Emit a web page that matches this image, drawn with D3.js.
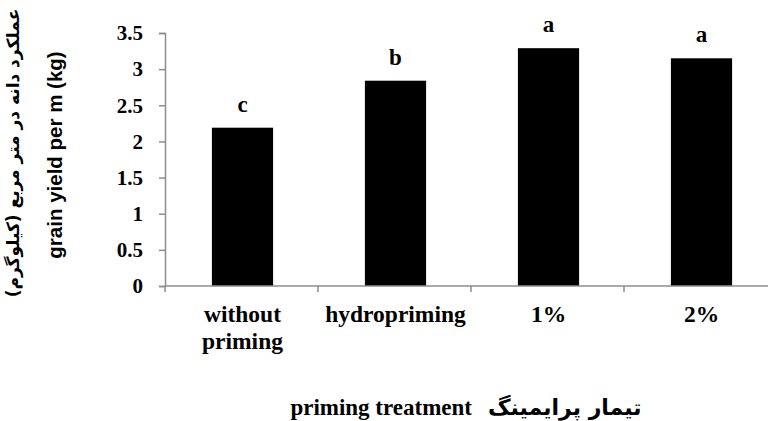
<!DOCTYPE html>
<html><head><meta charset="utf-8">
<script src="https://cdn.jsdelivr.net/npm/d3@7"></script>
<style>body{margin:0;background:#fff}</style>
</head><body>
<svg id="c" width="768" height="421"></svg>
<script>
const categories = [["without","priming"],["hydropriming"],["1%"],["2%"]];
const values = [2.19, 2.84, 3.29, 3.15];
const letters = ["c","b","a","a"];
const yTicks = [0,0.5,1,1.5,2,2.5,3,3.5];
const yTitleFa = "عملکرد دانه  در متر مربع (کیلوگرم)";
const yTitleEn = "grain yield per m (kg)";
const xTitleEn = "priming treatment";
const xTitleFa = "تیمار پرایمینگ";

const svg = d3.select("#c");
const serif = "'Liberation Serif','Times New Roman',serif";
const x0 = 165, x1 = 777;
const x = d3.scaleBand().domain(d3.range(categories.length)).range([x0+1, x1+1]).paddingInner(0.6).paddingOuter(0.3);
const y = d3.scaleLinear().domain([0,3.5]).range([286, 33]);
const axisColor = "#8c8c8c";

// y axis
const ya = svg.append("g").attr("transform",`translate(${x0},0)`)
  .call(d3.axisLeft(y).tickValues(yTicks).tickSize(6).tickPadding(16).tickFormat(d=>d3.format("")(d)));
ya.select(".domain").attr("stroke",axisColor).attr("stroke-width",1.5);
ya.selectAll(".tick line").attr("stroke",axisColor).attr("stroke-width",1.5);
ya.selectAll("text").attr("font-family",serif).attr("font-weight","bold").attr("font-size",21).attr("fill","#000");

// bars
svg.append("g").selectAll("rect").data(values).join("rect")
  .attr("x",(d,i)=>x(i)).attr("width",x.bandwidth())
  .attr("y",d=>y(d)).attr("height",d=>y(0)-y(d)).attr("fill","#000");

// x axis line with boundary ticks
const xb = d3.scaleLinear().domain([0,categories.length]).range([x0,x1]);
const xg = svg.append("g");
xg.append("line").attr("x1",x0).attr("x2",x1).attr("y1",y(0)).attr("y2",y(0)).attr("stroke",axisColor).attr("stroke-width",1.5);
xg.selectAll("line.t").data(d3.range(0,categories.length+1)).join("line").attr("class","t")
  .attr("x1",d=>xb(d)).attr("x2",d=>xb(d)).attr("y1",y(0)).attr("y2",y(0)+6).attr("stroke",axisColor).attr("stroke-width",1.5);

// category labels
const cl = svg.append("g").selectAll("text").data(categories).join("text")
  .attr("x",(d,i)=>x(i)+x.bandwidth()/2).attr("y",322)
  .attr("text-anchor","middle").attr("font-family",serif).attr("font-weight","bold").attr("font-size",23.5);
cl.selectAll("tspan").data(d=>d).join("tspan")
  .attr("x",function(){return this.parentNode.getAttribute("x");})
  .attr("dy",(d,i)=>i?27:0).text(d=>d);

// significance letters
svg.append("g").selectAll("text").data(values).join("text")
  .attr("x",(d,i)=>x(i)+x.bandwidth()/2).attr("y",d=>y(d)-16)
  .attr("text-anchor","middle").attr("font-family",serif).attr("font-weight","bold").attr("font-size",23)
  .text((d,i)=>letters[i]);

// y titles
svg.append("text").attr("transform","translate(19,153) rotate(-90)")
  .attr("text-anchor","middle").attr("font-family","'DejaVu Sans',sans-serif").attr("font-weight","bold").attr("font-size",17)
  .attr("direction","rtl").text(yTitleFa);
svg.append("text").attr("transform","translate(62,155) rotate(-90)")
  .attr("text-anchor","middle").attr("font-family","'Liberation Sans',Arial,sans-serif").attr("font-weight","bold").attr("font-size",20.5)
  .text(yTitleEn);

// x title
svg.append("text").attr("x",472).attr("y",415).attr("text-anchor","end")
  .attr("font-family",serif).attr("font-weight","bold").attr("font-size",23).text(xTitleEn);
svg.append("text").attr("x",488).attr("y",415).attr("text-anchor","end")
  .attr("font-family","'DejaVu Sans',sans-serif").attr("font-weight","bold").attr("font-size",22)
  .attr("direction","rtl").text(xTitleFa);
</script>
</body></html>
